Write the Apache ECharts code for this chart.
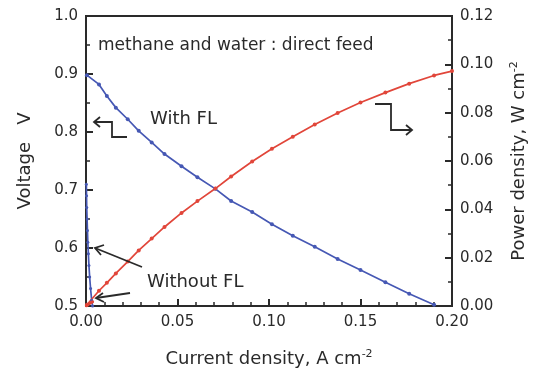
<!DOCTYPE html>
<html>
<head>
<meta charset="utf-8">
<script src="https://cdn.jsdelivr.net/npm/echarts@6/dist/echarts.min.js"></script>
<style>
  html, body { margin: 0; padding: 0; background: #fff; }
  #main { width: 536px; height: 374px; }
</style>
</head>
<body>
<div id="main"></div>
<script>
// With FL
const currentWithFL = [0.0005, 0.0071, 0.0114, 0.0163, 0.0228, 0.0288, 0.0359, 0.0429, 0.0522, 0.0609, 0.0707,
  0.0793, 0.0908, 0.1016, 0.1130, 0.1250, 0.1375, 0.1500, 0.1636, 0.1766, 0.1902];
const voltageWithFL = [0.898, 0.882, 0.862, 0.842, 0.822, 0.802, 0.782, 0.762, 0.741, 0.722, 0.702,
  0.681, 0.662, 0.641, 0.621, 0.602, 0.581, 0.562, 0.541, 0.521, 0.502];
const currentPowerWithFL = [0.0005, 0.0071, 0.0114, 0.0163, 0.0228, 0.0288, 0.0359, 0.0429, 0.0522, 0.0609, 0.0707,
  0.0793, 0.0908, 0.1016, 0.1130, 0.1250, 0.1375, 0.1500, 0.1636, 0.1766, 0.1902, 0.2000];
const powerWithFL = [0.0005, 0.0063, 0.0096, 0.0135, 0.0184, 0.0230, 0.0279, 0.0327, 0.0385, 0.0434, 0.0486,
  0.0536, 0.0598, 0.0651, 0.0700, 0.0751, 0.0799, 0.0842, 0.0883, 0.0920, 0.0954, 0.0972];

// Without FL
const currentWithoutFL = [0.0002, 0.0003, 0.0004, 0.0006, 0.0008, 0.0010, 0.0013, 0.0016, 0.0020, 0.0025, 0.0031, 0.0036];
const voltageWithoutFL = [0.71, 0.69, 0.67, 0.65, 0.63, 0.61, 0.59, 0.57, 0.55, 0.53, 0.51, 0.50];
const powerWithoutFL = [0.0001, 0.0002, 0.0003, 0.0004, 0.0005, 0.0006, 0.0008, 0.0009, 0.0011, 0.0013, 0.0016, 0.0018];

const BLUE = "#4658b4";
const RED = "#e1463a";
const FONT = "DejaVu Sans";
const INK = "#2a2a2a";

const zip = (xs, ys) => xs.map((x, i) => [x, ys[i]]);

const chart = echarts.init(document.getElementById("main"), null, { renderer: "canvas" });

const axisCommon = {
  axisLine: { show: true, lineStyle: { color: INK, width: 2 } },
  axisTick: { show: true, inside: true, length: 7, lineStyle: { color: INK, width: 2 } },
  minorTick: { show: true, length: 4, lineStyle: { color: INK, width: 1.5 } },
  splitLine: { show: false },
  axisLabel: { color: INK, fontFamily: FONT, fontSize: 15 },
  nameTextStyle: {
    color: INK, fontFamily: FONT, fontSize: 18,
    rich: { sup: { fontSize: 11, verticalAlign: "top", color: INK, fontFamily: FONT, padding: [0, 0, 9, 0] } }
  },
};

const lineSeries = (name, xs, ys, color, yIdx, sym) => ({
  name, type: "line", yAxisIndex: yIdx,
  data: zip(xs, ys),
  symbol: "circle", symbolSize: sym,
  showSymbol: true,
  lineStyle: { color, width: 1.7 },
  itemStyle: { color },
  emphasis: { disabled: true },
  z: 3,
});

const text = (x, y, str, size) => ({
  type: "text", x, y, z: 10,
  style: { text: str, font: `${size}px "${FONT}"`, fill: INK, verticalAlign: "middle" },
});

const poly = (points) => ({
  type: "polyline", z: 10, shape: { points },
  style: { stroke: INK, lineWidth: 1.8, fill: null },
});

const option = {
  animation: false,
  grid: {
    left: 86, right: 82, top: 16, bottom: 68,
    show: true, borderColor: INK, borderWidth: 2, backgroundColor: "transparent",
  },
  xAxis: {
    ...axisCommon,
    type: "value", min: 0, max: 0.2, interval: 0.05,
    minorTick: { ...axisCommon.minorTick, splitNumber: 5 },
    axisLabel: { ...axisCommon.axisLabel, margin: 9, formatter: (v) => v.toFixed(2) },
    name: "Current density, A cm{sup|-2}",
    nameLocation: "middle", nameGap: 43,
  },
  yAxis: [
    {
      ...axisCommon,
      type: "value", min: 0.5, max: 1.0, interval: 0.1, position: "left",
      minorTick: { ...axisCommon.minorTick, splitNumber: 2 },
      axisLabel: { ...axisCommon.axisLabel, margin: 8, formatter: (v) => v.toFixed(1) },
      name: "Voltage   V",
      nameLocation: "middle", nameGap: 52, nameRotate: 90,
    },
    {
      ...axisCommon,
      type: "value", min: 0, max: 0.12, interval: 0.02, position: "right",
      minorTick: { ...axisCommon.minorTick, splitNumber: 2 },
      axisLabel: { ...axisCommon.axisLabel, margin: 8, formatter: (v) => v.toFixed(2) },
      name: "Power density, W cm{sup|-2}",
      nameLocation: "middle", nameGap: 57, nameRotate: 90,
    },
  ],
  series: [
    lineSeries("With FL V", currentWithFL, voltageWithFL, BLUE, 0, 4),
    lineSeries("Without FL V", currentWithoutFL, voltageWithoutFL, BLUE, 0, 3),
    lineSeries("With FL P", currentPowerWithFL, powerWithFL, RED, 1, 4),
    lineSeries("Without FL P", currentWithoutFL, powerWithoutFL, RED, 1, 3),
  ],
  graphic: [
    text(98, 46, "methane and water : direct feed", 17),
    text(150, 119, "With FL", 18),
    text(147, 282, "Without FL", 18),
    // bent arrow pointing to the left axis
    poly([[127, 137], [112, 137], [112, 122], [94, 122]]),
    poly([[100, 117], [94, 122], [100, 127]]),
    // bent arrow pointing to the right axis
    poly([[375, 104], [391, 104], [391, 130], [412, 130]]),
    poly([[406, 125], [412, 130], [406, 135]]),
    // Without FL arrows
    poly([[142, 267], [95, 248]]),
    poly([[104, 245], [95, 248], [101, 255]]),
    poly([[130, 293], [96, 298]]),
    poly([[103, 293], [96, 298], [104, 302]]),
  ],
};

chart.setOption(option);
</script>
</body>
</html>
